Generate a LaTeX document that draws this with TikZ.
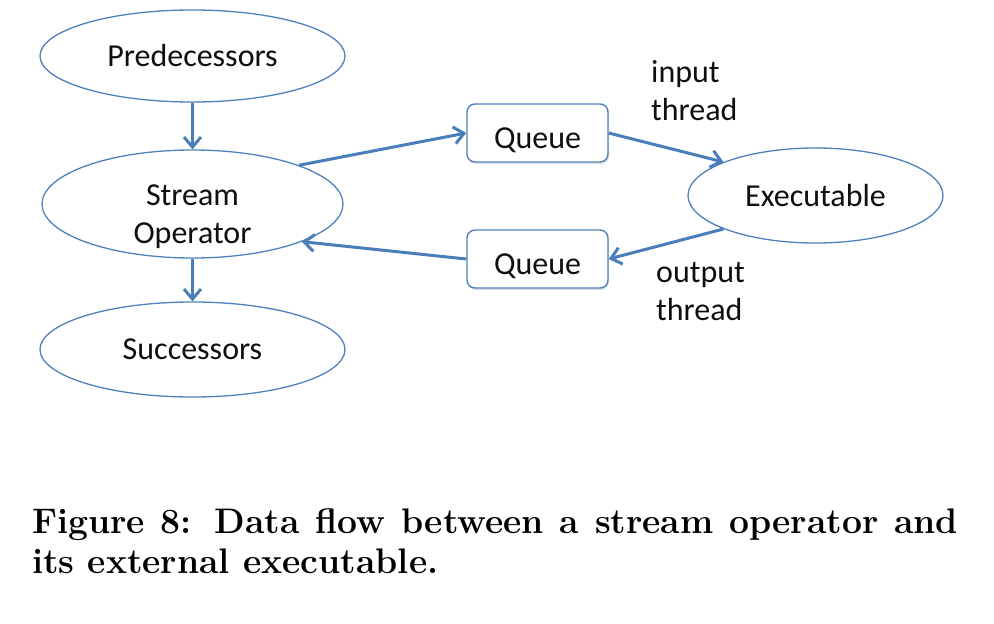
\documentclass[tikz,border=0pt]{standalone}
\usepackage{fontspec}
\newfontfamily\diafont{Carlito}
\usetikzlibrary{shapes.geometric,arrows.meta,shadows}
\definecolor{lineblue}{RGB}{79,129,189}
\definecolor{arrowblue}{RGB}{74,126,187}
\definecolor{txt}{RGB}{15,15,15}
\tikzset{
  oval/.style={ellipse, draw=lineblue, line width=1.3pt, fill=white, inner sep=0pt,
    font=\diafont\fontsize{32}{38}\selectfont, text=txt, align=center},
  qbox/.style={rectangle, rounded corners=8pt, draw=lineblue, line width=1.4pt, fill=white,
    minimum width=141pt, minimum height=58pt, inner sep=0pt,
    text height=32pt, text depth=2pt,
    font=\diafont\fontsize{32}{38}\selectfont, text=txt,
    drop shadow={shadow xshift=1pt, shadow yshift=-2pt, opacity=0.25}},
  lbl/.style={font=\diafont\fontsize{32}{38}\selectfont, text=txt, align=left, inner sep=0pt},
  flow/.style={draw=arrowblue, line width=3pt, -{Straight Barb[length=10pt,width=17pt]}},
  captext/.style={font=\fontsize{35.5}{40}\selectfont\bfseries, inner sep=0pt, anchor=base west}
}
\begin{document}
\begin{tikzpicture}[x=1pt,y=-1pt]
\path[use as bounding box, fill=white] (0,0) rectangle (994,624);
\node[oval, minimum width=305pt, minimum height=92pt] (pred) at (192.5,56) {Predecessors};
\node[oval, minimum width=301pt, minimum height=108pt] (so) at (192.5,204) {};
\node[lbl, align=center] (sotext) at (192.5,217) {Stream\\Operator};
\node[oval, minimum width=305pt, minimum height=95pt] (succ) at (192.5,349.5) {Successors};
\node[oval, minimum width=255pt, minimum height=95pt] (ex) at (815.5,195.5) {Executable};
\node[qbox] (q1) at (537.5,133) {Queue};
\node[qbox] (q2) at (537.5,259) {Queue};
\node[lbl, anchor=base west] (inl) at (651,120) {input\\thread};
\node[lbl, anchor=base west] (outl) at (656,320) {output\\thread};
\draw[flow] (pred.south) -- (so.north);
\draw[flow] (so.south) -- (succ.north);
\draw[flow] (so.20) -- (q1.west);
\draw[flow] (q1.east) -- (ex.160);
\draw[flow] (ex.200) -- (q2.east);
\draw[flow] (q2.west) -- (so.-19);
\node[captext] (cap1) at (32,533) {\makebox[926pt][s]{Figure 8: Data flow between a stream operator and}};
\node[captext] (cap2) at (32,573) {its external executable.};
\end{tikzpicture}
\end{document}
